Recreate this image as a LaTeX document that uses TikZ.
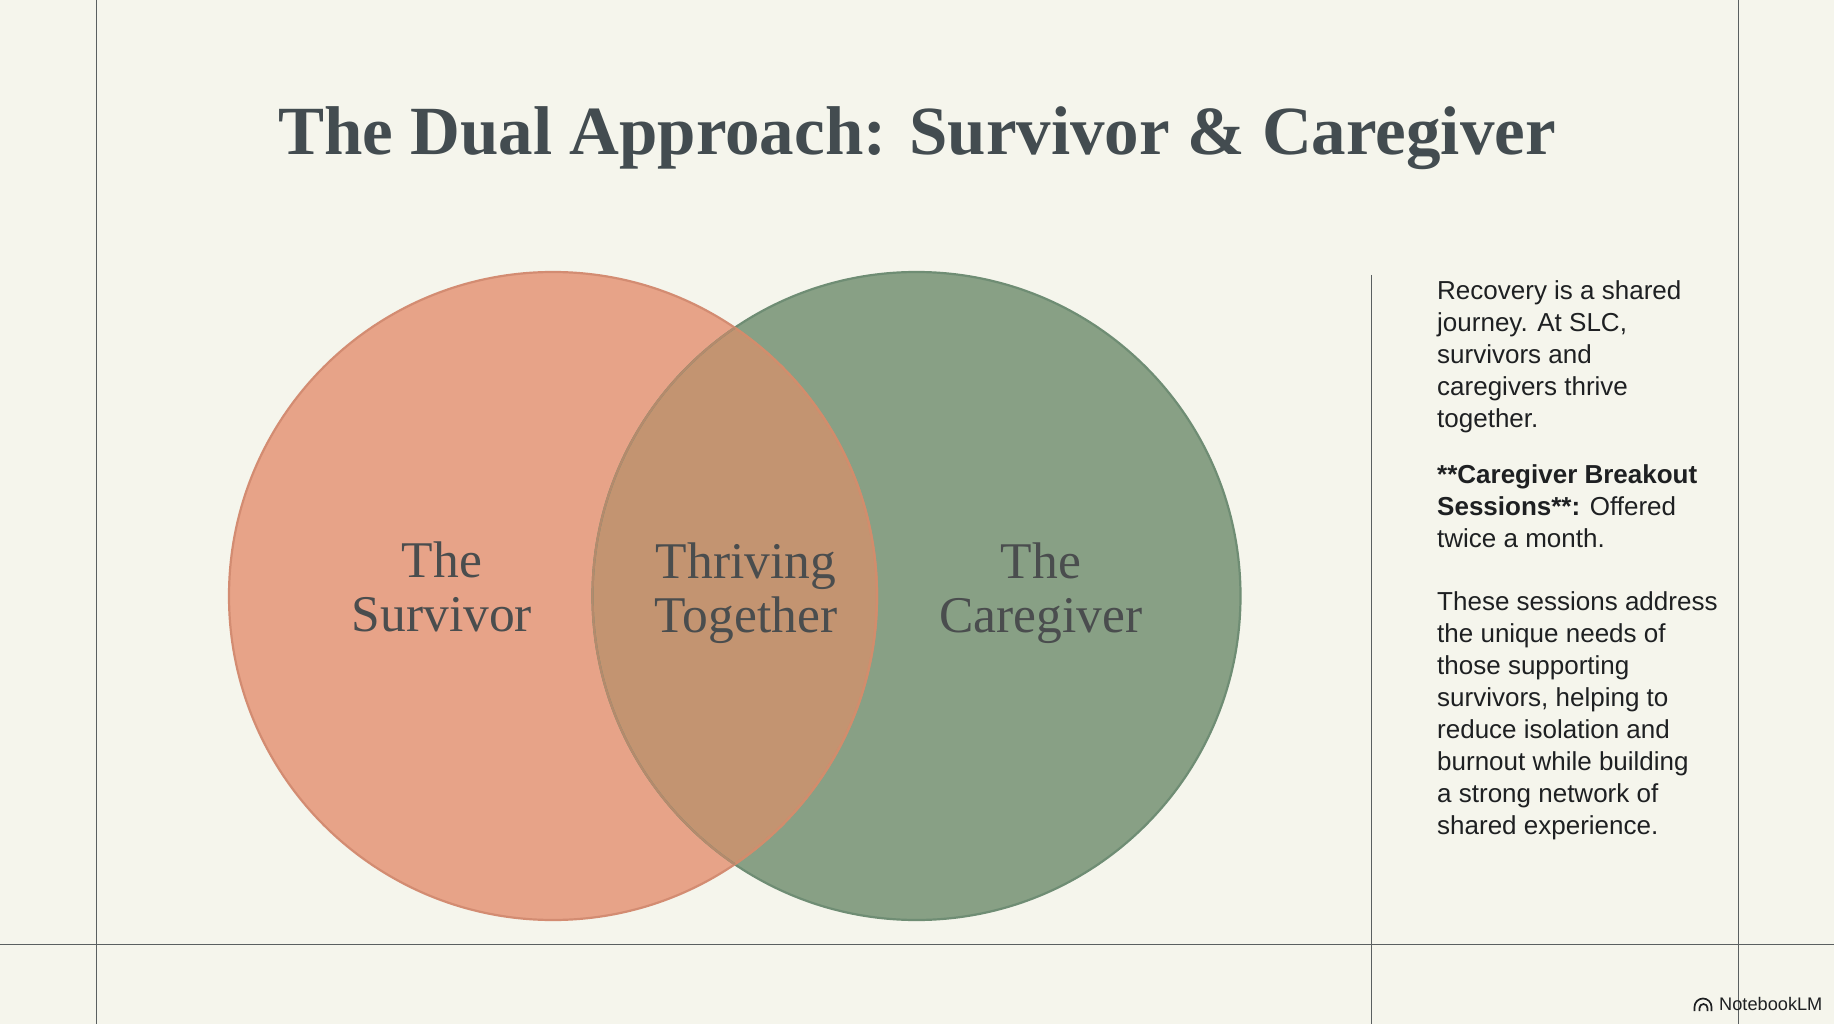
\documentclass[tikz,border=0pt]{standalone}
\usepackage{fontspec}
\setmainfont{Liberation Serif}
\newfontfamily\bodyfont{Liberation Sans}
\definecolor{bgc}{HTML}{F5F5EC}
\definecolor{salmon}{HTML}{E7A388}
\definecolor{salmonedge}{HTML}{D38C72}
\definecolor{sage}{HTML}{88A085}
\definecolor{sageedge}{HTML}{6F8D74}
\definecolor{blendc}{HTML}{C39471}
\definecolor{blendedgeA}{HTML}{B58A6C}
\definecolor{blendedgeB}{HTML}{D28D6C}
\definecolor{titlec}{HTML}{434C50}
\definecolor{labelc}{HTML}{4A4D4E}
\definecolor{bodyc}{HTML}{1E2022}
\definecolor{rulec}{HTML}{5A5F60}
\tikzset{
  x=1pt,y=-1pt,
  rulestyle/.style={draw=rulec,line width=1pt},
  venn/.style={font=\fontsize{51.5}{54}\selectfont,text=labelc,align=center,inner sep=0pt},
  bodytext/.style={font=\bodyfont\fontsize{26}{32}\selectfont,text=bodyc,align=left,anchor=north west,inner sep=0pt},
  logoarc/.style={draw=bodyc,line width=1.7pt},
}
\begin{document}
\begin{tikzpicture}
\useasboundingbox (0,0) rectangle (1834,1024);
\fill[bgc] (0,0) rectangle (1834,1024);
\coordinate (topA) at (96.5,0);
\coordinate (botA) at (96.5,1024);
\coordinate (topB) at (1738,0);
\coordinate (botB) at (1738,1024);
\coordinate (topC) at (1371,275);
\coordinate (botC) at (1371,1024);
\coordinate (leftH) at (0,944);
\coordinate (rightH) at (1834,944);
\draw[rulestyle] (topA)--(botA);
\draw[rulestyle] (topB)--(botB);
\draw[rulestyle] (topC)--(botC);
\draw[rulestyle] (leftH)--(rightH);
\fill[salmon] (553,596) circle (324);
\fill[sage] (916.5,596) circle (324);
\begin{scope}
\clip (553,596) circle (324);
\fill[blendc] (916.5,596) circle (324);
\end{scope}
\draw[sageedge,line width=2.2pt] (916.5,596) circle (324);
\draw[salmonedge,line width=2.2pt] (553,596) circle (324);
\begin{scope}
\clip (916.5,596) circle (324);
\draw[blendedgeB,line width=2.2pt] (553,596) circle (324);
\end{scope}
\begin{scope}
\clip (553,596) circle (324);
\draw[blendedgeA,line width=2.2pt] (916.5,596) circle (324);
\end{scope}
\node[font=\bfseries\fontsize{69}{72}\selectfont,text=titlec,inner sep=0pt,anchor=base] (title) at (917,155) {The Dual Approach: Survivor \& Caregiver};
\node[venn] (surv) at (442,587) {The\\Survivor};
\node[venn] (thr) at (746,593) {Thriving\\Together};
\node[venn] (care) at (1041,593) {The\\Caregiver};
\node[bodytext] (p1) at (1437,280) {Recovery is a shared\\journey. At SLC,\\survivors and\\caregivers thrive\\together.};
\node[bodytext] (p2) at (1437,464) {\textbf{**Caregiver Breakout}\\\textbf{Sessions**:} Offered\\twice a month.};
\node[bodytext] (p3) at (1437,591) {These sessions address\\the unique needs of\\those supporting\\survivors, helping to\\reduce isolation and\\burnout while building\\a strong network of\\shared experience.};
\node[font=\bodyfont\fontsize{18.2}{20}\selectfont,text=bodyc,inner sep=0pt,anchor=base west] (logo) at (1719,1010.5) {NotebookLM};
\draw[logoarc] (1694.5,1011) -- (1694.5,1007) arc[start angle=180,end angle=360,radius=8.5] -- (1711.5,1011);
\draw[logoarc] (1699.5,1011) -- (1699.5,1008) arc[start angle=180,end angle=360,radius=4] -- (1707.5,1011);
\end{tikzpicture}
\end{document}
